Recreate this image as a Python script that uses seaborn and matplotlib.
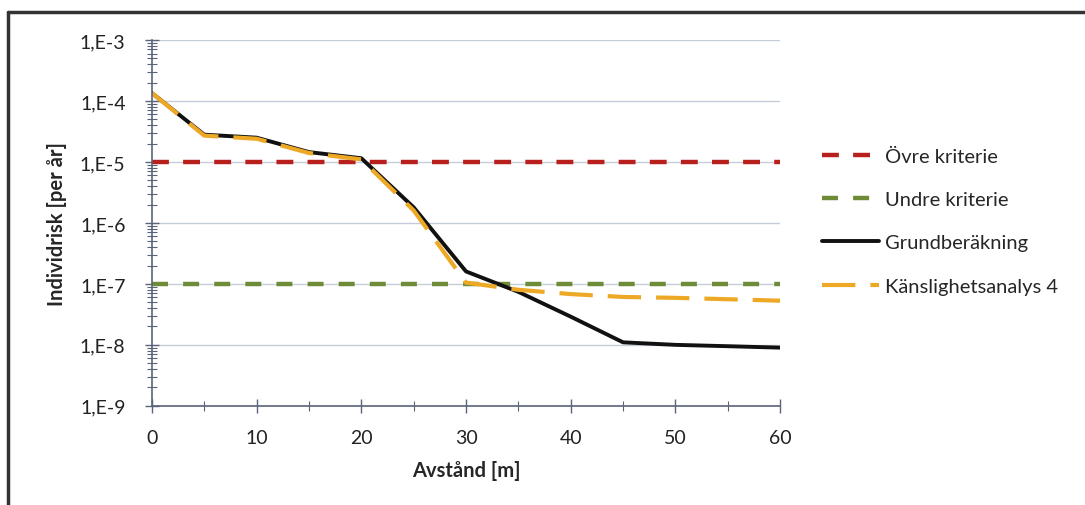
import matplotlib
matplotlib.use("Agg")
import matplotlib.pyplot as plt
import matplotlib.ticker as mticker
from matplotlib.lines import Line2D
import numpy as np
import seaborn as sns

# data
avstand = [0, 5, 10, 15, 20, 25, 30, 35, 40, 45, 50, 55, 60]
grund = [1.35e-4, 2.8e-5, 2.5e-5, 1.45e-5, 1.15e-5, 1.8e-6, 1.6e-7,
         7.4e-8, 2.9e-8, 1.1e-8, 1.0e-8, 9.5e-9, 9.0e-9]
kanslighet4 = [1.35e-4, 2.7e-5, 2.4e-5, 1.4e-5, 1.1e-5, 1.6e-6, 1.05e-7,
               8.0e-8, 6.8e-8, 6.1e-8, 5.9e-8, 5.6e-8, 5.3e-8]
krit_x = [0, 60]
ovre_kriterie = [1e-5, 1e-5]
undre_kriterie = [1e-7, 1e-7]

ytick_vals = [1e-9, 1e-8, 1e-7, 1e-6, 1e-5, 1e-4, 1e-3]
ytick_labels = ["1,E-9", "1,E-8", "1,E-7", "1,E-6", "1,E-5", "1,E-4", "1,E-3"]
xtick_vals = [0, 10, 20, 30, 40, 50, 60]

sns.set_style("white")
plt.rcParams["font.family"] = ["Lato", "DejaVu Sans"]

fig = plt.figure(figsize=(10.85, 5.06), dpi=100)
ax = fig.add_axes([0.140, 0.196, 0.579, 0.723])

axis_col = "#5a6478"
grid_col = "#c3ccd8"

sns.lineplot(x=krit_x, y=ovre_kriterie, ax=ax, color="#b8201e", lw=3.2,
             label="Övre kriterie")
sns.lineplot(x=krit_x, y=undre_kriterie, ax=ax, color="#6e8c38", lw=3.2,
             label="Undre kriterie")
sns.lineplot(x=avstand, y=grund, ax=ax, color="#111111", lw=2.8,
             label="Grundberäkning")
sns.lineplot(x=avstand, y=kanslighet4, ax=ax, color="#eda926", lw=3.0,
             label="Känslighetsanalys 4")

lines = ax.get_lines()
lines[0].set_dashes([3.8, 3.2])
lines[1].set_dashes([3.6, 3.4])
lines[3].set_dashes([8.0, 3.6])

ax.set_yscale("log")
ax.set_ylim(1e-9, 1e-3)
ax.set_xlim(0, 60)
ax.set_yticks(ytick_vals)
ax.set_yticklabels(ytick_labels)
ax.yaxis.set_minor_locator(mticker.LogLocator(base=10, subs=np.arange(2, 10)))
ax.yaxis.set_minor_formatter(mticker.NullFormatter())
ax.set_xticks(xtick_vals)
ax.xaxis.set_minor_locator(mticker.MultipleLocator(5))

ax.grid(axis="y", which="major", color=grid_col, lw=1.0)
ax.grid(axis="x", visible=False)
ax.set_axisbelow(True)

for side in ["top", "right"]:
    ax.spines[side].set_visible(False)
for side in ["left", "bottom"]:
    ax.spines[side].set_color(axis_col)
    ax.spines[side].set_linewidth(1.2)

ax.tick_params(axis="both", which="both", left=True, bottom=True)
ax.tick_params(axis="both", which="major", direction="inout", length=10,
               width=1.0, color=axis_col, labelsize=14, labelcolor="#222222")
ax.tick_params(axis="both", which="minor", direction="inout", length=7,
               width=0.8, color=axis_col)
ax.tick_params(axis="x", pad=12)
ax.tick_params(axis="y", pad=14)

ax.set_xlabel("Avstånd [m]", fontsize=14.5, fontweight="bold", labelpad=10)
ax.set_ylabel("Individrisk [per år]", fontsize=14.5, fontweight="bold",
              labelpad=9)

ax.legend(loc="center left", bbox_to_anchor=(1.067, 0.505), frameon=False,
          fontsize=14.5, handlelength=2.8, handletextpad=0.3,
          labelspacing=1.3, borderpad=0, borderaxespad=0)

# outer chart border (top and left edges visible in the scan)
fig.add_artist(Line2D([0.0075, 1.0], [0.974, 0.974], transform=fig.transFigure,
                      color="#333333", lw=2.5))
fig.add_artist(Line2D([0.0075, 0.0075], [0.0, 0.974], transform=fig.transFigure,
                      color="#333333", lw=2.5))

fig.savefig("out.png", dpi=100)
